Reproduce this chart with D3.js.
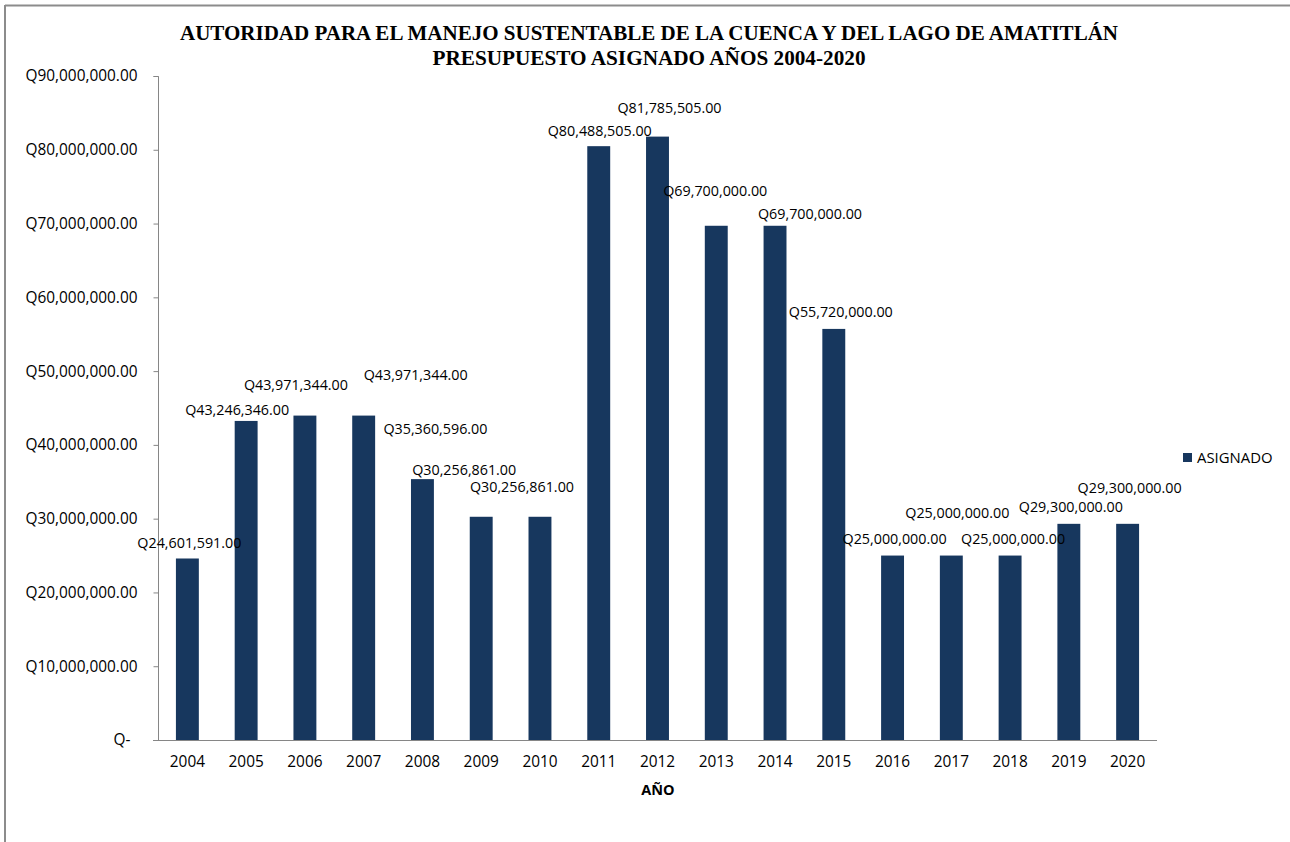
<!DOCTYPE html>
<html><head><meta charset="utf-8">
<script src="https://cdn.jsdelivr.net/npm/d3@7"></script>
<style>body{margin:0;background:#fff}svg{display:block}</style>
</head><body>
<svg id="c" width="1290" height="842"></svg>
<script>
// ---- data ----
const years = ["2004","2005","2006","2007","2008","2009","2010","2011","2012","2013","2014","2015","2016","2017","2018","2019","2020"];
const asignado = [24601591,43246346,43971344,43971344,35360596,30256861,30256861,80488505,81785505,69700000,69700000,55720000,25000000,25000000,25000000,29300000,29300000];
const yTicks = [0,10000000,20000000,30000000,40000000,50000000,60000000,70000000,80000000,90000000];
const titleLines = ["AUTORIDAD PARA EL MANEJO SUSTENTABLE DE LA CUENCA Y DEL LAGO DE AMATITLÁN","PRESUPUESTO ASIGNADO AÑOS 2004-2020"];
const seriesName = "ASIGNADO";
const xTitle = "AÑO";
// label offsets (px) from the bar top centre, as placed in the original
const labelDx = [2,-9,-9,52,13,-17,-18,1,12,-1,35,7,2,6,3,2,2];
const labelDy = [-15,-11,-31,-41,-50,-47,-30,-15,-29,-35,-12,-17,-17,-43,-17,-17,-36];

const svg = d3.select("#c");
const font = "'Open Sans', sans-serif";
const barColor = "#17375e";
const axisColor = "#868686";

// frame (top and left edges only)
svg.append("path").attr("d","M5,5.5H1290M5,5V842")
  .attr("fill","none").attr("stroke","#8c8c8c").attr("stroke-width",2);

const x = d3.scaleBand().domain(years).range([158,1157]).paddingInner(0.61).paddingOuter(0.305);
const y = d3.scaleLinear().domain([0,90000000]).range([740,76]);

const fmt = v => v===0 ? "Q-" : "Q" + d3.format(",.2f")(v);

// y axis
const ya = svg.append("g").attr("transform","translate(158.5,0)")
  .call(d3.axisLeft(y).tickValues(yTicks).tickSize(5).tickPadding(16).tickFormat(fmt));
ya.select(".domain").attr("stroke",axisColor).attr("d","M-5,76.5H0V740.5");
ya.selectAll(".tick line").attr("stroke",axisColor);
ya.selectAll(".tick text").attr("font-family",font).attr("font-size","15.4px").attr("fill","#000");
ya.selectAll(".tick").filter(d=>d===0).select("text").attr("dx","-7");

// x axis
const xa = svg.append("g").attr("transform","translate(0,740.5)")
  .call(d3.axisBottom(x).tickSize(0).tickPadding(16));
xa.select(".domain").attr("stroke",axisColor).attr("d","M153,0H1157");
xa.selectAll(".tick text").attr("font-family",font).attr("font-size","15.4px").attr("fill","#000");

// bars
svg.append("g").selectAll("rect").data(asignado).join("rect")
  .attr("x",(d,i)=>x(years[i])).attr("width",x.bandwidth())
  .attr("y",d=>y(d)).attr("height",d=>y(0)-y(d))
  .attr("fill",barColor);

// data labels
svg.append("g").selectAll("text").data(asignado).join("text")
  .attr("x",(d,i)=>x(years[i])+x.bandwidth()/2+labelDx[i])
  .attr("y",(d,i)=>y(d)+labelDy[i])
  .attr("dy","0.35em").attr("text-anchor","middle")
  .attr("font-family",font).attr("font-size","14.3px").attr("fill","#000")
  .text(d=>fmt(d));

// title
const tw = [938,433];
svg.append("g").selectAll("text").data(titleLines).join("text")
  .attr("x",649).attr("y",(d,i)=>33+i*25).attr("dy","0.35em")
  .attr("text-anchor","middle").attr("font-family","'Liberation Serif', serif")
  .attr("font-weight","bold").attr("font-size","20px")
  .attr("textLength",(d,i)=>tw[i]).attr("lengthAdjust","spacingAndGlyphs")
  .text(d=>d);

// x axis title
svg.append("text").attr("x",658).attr("y",790).attr("dy","0.35em").attr("text-anchor","middle")
  .attr("font-family",font).attr("font-weight","bold").attr("font-size","14.5px").text(xTitle);

// legend
const lg = svg.append("g");
lg.append("rect").attr("x",1183).attr("y",453).attr("width",9).attr("height",9).attr("fill",barColor);
lg.append("text").attr("x",1197).attr("y",458).attr("dy","0.35em")
  .attr("font-family",font).attr("font-size","14.9px").text(seriesName);
</script>
</body></html>
